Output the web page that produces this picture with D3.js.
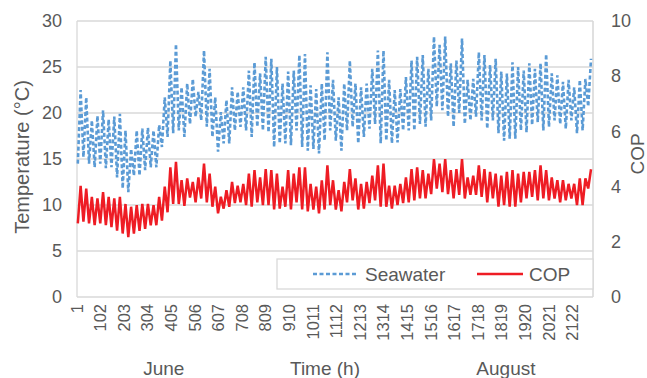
<!DOCTYPE html>
<html><head><meta charset="utf-8">
<script src="https://cdn.jsdelivr.net/npm/d3@7"></script>
<style>
html,body{margin:0;padding:0;background:#fff;}
svg{display:block;font-family:"Liberation Sans",Arial,sans-serif;}
</style></head>
<body><svg id="c" width="647" height="378"></svg>
<script>
// Daily maxima / minima (92 days, June–August)
const seaPeak = [
22.5,21.7,19.2,19.7,20.3,19.3,19.6,19.9,18.1,16.1,18.1,18.3,18.4,18.1,18.7,21.7,25.7,27.5,
22.8,23.2,23.7,22.3,26.8,24.8,21.7,20.1,21.4,22.8,22.3,22.8,24.6,25.5,24.3,26.1,25.9,25.0,23.2,
24.5,24.6,26.3,26.4,23.0,22.6,23.2,26.6,23.6,21.7,23.2,25.7,23.2,22.8,23.2,24.8,26.8,26.8,
23.6,22.5,22.6,23.9,25.7,26.1,26.3,24.8,28.3,27.4,28.3,25.4,25.7,28.1,23.6,23.7,26.6,26.3,
25.2,25.9,24.5,24.3,25.5,25.0,24.6,25.4,24.8,25.4,26.4,24.3,24.1,23.4,23.6,22.8,23.6,23.7,25.9];
const seaTrough = [
14.5,15.2,14.5,14.1,14.5,14.0,14.1,13.0,11.8,11.4,13.2,13.2,13.8,14.1,14.1,16.3,17.4,17.8,
18.1,17.4,18.8,19.6,19.2,18.5,17.4,15.8,16.7,16.7,18.1,18.5,18.1,17.4,18.5,18.1,17.9,16.3,16.7,
16.7,16.5,18.1,16.3,15.9,16.1,15.6,17.0,18.1,17.0,15.9,18.1,18.5,16.7,17.4,18.3,18.8,16.7,
17.0,16.7,16.8,18.1,18.1,18.1,18.8,18.5,19.2,20.7,20.3,19.6,18.5,20.0,18.8,19.2,19.6,19.2,
18.3,19.2,17.8,17.0,17.2,17.2,18.1,17.9,18.7,19.0,18.1,18.5,19.2,18.8,18.3,19.2,17.8,18.1,20.7];
const copPeak = [
4.03,3.93,3.63,3.57,3.80,3.63,3.57,3.63,3.37,3.27,3.33,3.37,3.37,3.33,3.63,4.00,4.70,4.90,
4.23,4.30,4.17,4.33,4.83,4.47,4.00,3.63,3.87,4.17,4.03,4.10,4.47,4.60,4.33,4.63,4.60,4.47,4.00,
4.60,4.47,4.70,4.70,4.10,4.00,4.23,4.77,4.23,3.87,4.17,4.63,4.30,4.10,4.17,4.40,4.77,4.83,
4.03,4.03,4.10,4.33,4.63,4.70,4.60,4.47,5.00,4.83,5.00,4.60,4.63,5.00,4.33,4.40,4.77,4.63,
4.53,4.47,4.40,4.53,4.60,4.47,4.53,4.53,4.60,4.77,4.60,4.33,4.23,4.23,4.10,4.10,4.30,4.30,4.63];
const copTrough = [
2.67,2.73,2.67,2.60,2.67,2.60,2.53,2.40,2.30,2.17,2.30,2.40,2.47,2.60,2.60,2.77,3.07,3.37,
3.37,3.30,3.60,3.43,3.57,3.43,3.27,3.03,3.20,3.27,3.40,3.43,3.33,3.27,3.43,3.33,3.33,3.17,3.20,
3.27,3.17,3.43,3.17,3.10,3.17,3.03,3.17,3.33,3.17,3.10,3.43,3.50,3.17,3.20,3.40,3.50,3.27,
3.27,3.20,3.33,3.40,3.43,3.50,3.57,3.57,3.73,3.93,3.80,3.73,3.57,3.70,3.57,3.70,3.70,3.63,
3.43,3.57,3.27,3.33,3.27,3.27,3.43,3.57,3.63,3.50,3.57,3.50,3.57,3.43,3.50,3.57,3.33,3.33,3.93];
const xTicks = [1,102,203,304,405,506,607,708,809,910,1011,1112,1213,1314,1415,1516,1617,1718,1819,1920,2021,2122];
const tempTicks = [0,5,10,15,20,25,30];
const copTicks = [0,2,4,6,8,10];
const monthLabels = ["June","August"];
const monthHours = [372,1836];
const totalHours = 2208;
const troughHour = 4, peakHour = 16;

const svg = d3.select("#c");
const L = 77, R = 593, T = 21, B = 297;
const textCol = "#595959", gridCol = "#d9d9d9";

const x = d3.scaleLinear().domain([0.5, totalHours + 0.5]).range([L, R]);
const yT = d3.scaleLinear().domain([0, 30]).range([B, T]);
const yC = d3.scaleLinear().domain([0, 10]).range([B, T]);

// gridlines
svg.append("g").selectAll("line").data(tempTicks).join("line")
  .attr("x1", L).attr("x2", R).attr("y1", d => yT(d)).attr("y2", d => yT(d))
  .attr("stroke", gridCol).attr("stroke-width", 1.3);
// plot frame sides
svg.append("line").attr("x1", L).attr("x2", L).attr("y1", T).attr("y2", B).attr("stroke", gridCol).attr("stroke-width", 1.3);
svg.append("line").attr("x1", R).attr("x2", R).attr("y1", T).attr("y2", B).attr("stroke", gridCol).attr("stroke-width", 1.6);

// left axis
const axL = svg.append("g").attr("transform", `translate(${L},0)`)
  .call(d3.axisLeft(yT).tickValues(tempTicks).tickSize(0).tickPadding(15));
axL.select(".domain").remove();
axL.selectAll("text").attr("fill", textCol).style("font-size", "18px").style("font-family", "Liberation Sans, Arial, sans-serif");

// right axis
const axR = svg.append("g").attr("transform", `translate(${R},0)`)
  .call(d3.axisRight(yC).tickValues(copTicks).tickSize(0).tickPadding(18));
axR.select(".domain").remove();
axR.selectAll("text").attr("fill", textCol).style("font-size", "18px").style("font-family", "Liberation Sans, Arial, sans-serif");

// bottom axis
const axB = svg.append("g").attr("transform", `translate(0,${B})`)
  .call(d3.axisBottom(x).tickValues(xTicks).tickFormat(d3.format("d")).tickSize(0));
axB.select(".domain").remove();
axB.selectAll("text").attr("fill", textCol).style("font-size", "16.5px").style("font-family", "Liberation Sans, Arial, sans-serif")
  .attr("transform", "rotate(-90)").attr("x", -7).attr("y", -1).attr("dy", "0.36em").style("text-anchor", "end");

// series
function build(peaks, troughs) {
  const pts = [];
  peaks.forEach((p, i) => {
    pts.push([i * 24 + troughHour, troughs[i]]);
    pts.push([i * 24 + peakHour, p]);
  });
  return pts;
}
const seaPts = build(seaPeak, seaTrough);
const copPts = build(copPeak, copTrough);

svg.append("path").datum(seaPts)
  .attr("d", d3.line().x(d => x(d[0])).y(d => yT(d[1])))
  .attr("fill", "none").attr("stroke", "#5b9bd5").attr("stroke-width", 2.6)
  .attr("stroke-dasharray", "4,2.5");
svg.append("path").datum(copPts)
  .attr("d", d3.line().x(d => x(d[0])).y(d => yC(d[1])))
  .attr("fill", "none").attr("stroke", "#ee1c24").attr("stroke-width", 2.5);

// legend
const lg = svg.append("g");
lg.append("rect").attr("x", 277).attr("y", 259).attr("width", R - 277).attr("height", 30)
  .attr("fill", "#fff").attr("stroke", gridCol).attr("stroke-width", 1.3);
lg.append("line").attr("x1", 313).attr("x2", 358).attr("y1", 274).attr("y2", 274)
  .attr("stroke", "#5b9bd5").attr("stroke-width", 2.6).attr("stroke-dasharray", "4,2.5");
lg.append("text").attr("x", 365).attr("y", 274).attr("dy", "0.35em").text("Seawater")
  .attr("fill", textCol).style("font-size", "19px");
lg.append("line").attr("x1", 477).attr("x2", 523).attr("y1", 274).attr("y2", 274)
  .attr("stroke", "#ee1c24").attr("stroke-width", 2.5);
lg.append("text").attr("x", 529).attr("y", 274).attr("dy", "0.35em").text("COP")
  .attr("fill", textCol).style("font-size", "19px");

// titles
svg.append("text").attr("transform", "translate(29,157) rotate(-90)").attr("text-anchor", "middle")
  .attr("fill", textCol).style("font-size", "20px").text("Temperature (°C)");
svg.append("text").attr("transform", "translate(644,154) rotate(-90)").attr("text-anchor", "middle")
  .attr("fill", textCol).style("font-size", "19px").text("COP");
svg.append("text").attr("x", 325).attr("y", 375).attr("text-anchor", "middle")
  .attr("fill", textCol).style("font-size", "19px").text("Time (h)");
svg.selectAll(".month").data(monthLabels).join("text").attr("class", "month")
  .attr("x", (d, i) => x(monthHours[i])).attr("y", 375).attr("text-anchor", "middle")
  .attr("fill", textCol).style("font-size", "19px").text(d => d);
</script></body></html>
